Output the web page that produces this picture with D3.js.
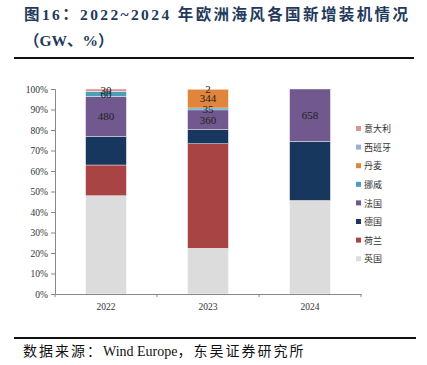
<!DOCTYPE html>
<html>
<head>
<meta charset="utf-8">
<script src="https://cdn.jsdelivr.net/npm/d3@7"></script>
<style>
  html, body { margin: 0; padding: 0; background: #fff; }
  svg { display: block; }
</style>
</head>
<body>
<div id="chart"></div>
<script>
const WIDTH = 427;
const HEIGHT = 365;
const SERIF = "'Liberation Serif', 'Noto Sans CJK SC', serif";

const years = ["2022", "2023", "2024"];
// bottom-to-top stacking order
const countries = ["英国", "荷兰", "德国", "法国", "挪威", "丹麦", "西班牙", "意大利"];
const colors = ["#dcdcdc", "#a84443", "#17375e", "#71588f", "#4aa0b8", "#e0853b", "#95b3d7", "#d99694"];
// newly installed capacity, MW
const ukValues = [1179, 833, 1175];
const nlValues = [369, 1907, 0];
const deValues = [342, 257, 742];
const frValues = [480, 360, 658];
const noValues = [60, 35, 0];
const dkValues = [0, 344, 0];
const esValues = [0, 2, 0];
const itValues = [30, 0, 0];
const labelled = new Set(["法国", "挪威", "丹麦", "西班牙", "意大利"]);
const yTicks = [0, 0.1, 0.2, 0.3, 0.4, 0.5, 0.6, 0.7, 0.8, 0.9, 1];

const seriesValues = [ukValues, nlValues, deValues, frValues, noValues, dkValues, esValues, itValues];
const rows = years.map((year, i) => {
  const row = { year };
  countries.forEach((c, k) => { row[c] = seriesValues[k][i]; });
  return row;
});

const stack = d3.stack().keys(countries).offset(d3.stackOffsetExpand);
const stacked = stack(rows);

const color = d3.scaleOrdinal().domain(countries).range(colors);

const margin = { left: 55, right: 66, top: 89, bottom: 71 };
const x = d3.scaleBand().domain(years).range([margin.left, WIDTH - margin.right]).paddingInner(0.6).paddingOuter(0.3);
const y = d3.scaleLinear().domain([0, 1]).range([HEIGHT - margin.bottom, margin.top]);

const svg = d3.select("#chart").append("svg")
  .attr("width", WIDTH)
  .attr("height", HEIGHT);

// title
const title = svg.append("g")
  .attr("font-family", SERIF)
  .attr("font-weight", "bold")
  .attr("fill", "#1f3a5c");
title.append("text")
  .attr("x", 24).attr("y", 20)
  .attr("font-size", 15.5)
  .attr("textLength", 384)
  .text("图16：2022~2024 年欧洲海风各国新增装机情况");
title.append("text")
  .attr("x", 24).attr("y", 46)
  .attr("font-size", 15.5)
  .text("（GW、%）");

svg.append("line")
  .attr("x1", 14).attr("x2", 414).attr("y1", 58).attr("y2", 58)
  .attr("stroke", "#111").attr("stroke-width", 2);

// bars
const layers = svg.append("g").selectAll("g")
  .data(stacked)
  .join("g")
  .attr("fill", (d) => color(d.key));

layers.selectAll("rect")
  .data((d) => d.map((p) => ({ p, key: d.key })))
  .join("rect")
  .attr("x", (d) => x(d.p.data.year))
  .attr("width", x.bandwidth())
  .attr("y", (d) => y(d.p[1]))
  .attr("height", (d) => Math.max(0, y(d.p[0]) - y(d.p[1])))
  .attr("stroke", "#fff")
  .attr("stroke-width", 0.4);

// segment labels
const labelData = [];
stacked.forEach((layer) => {
  if (!labelled.has(layer.key)) return;
  layer.forEach((p) => {
    const v = p.data[layer.key];
    if (v > 0) labelData.push({ year: p.data.year, v, mid: (p[0] + p[1]) / 2 });
  });
});
svg.append("g")
  .attr("font-family", SERIF)
  .attr("font-size", 11)
  .attr("fill", "#222")
  .attr("text-anchor", "middle")
  .selectAll("text")
  .data(labelData)
  .join("text")
  .attr("x", (d) => x(d.year) + x.bandwidth() / 2)
  .attr("y", (d) => y(d.mid))
  .attr("dy", "0.35em")
  .text((d) => d.v);

// axes
const yAxis = svg.append("g")
  .attr("transform", `translate(${margin.left},0)`)
  .call(d3.axisLeft(y).tickValues(yTicks).tickFormat(d3.format(".0%")).tickSize(4).tickPadding(3));
yAxis.select(".domain").attr("stroke", "#888");
yAxis.selectAll(".tick line").attr("stroke", "#888");
yAxis.selectAll("text").attr("font-family", SERIF).attr("font-size", 9.5).attr("fill", "#333");

const xAxis = svg.append("g")
  .attr("transform", `translate(0,${HEIGHT - margin.bottom})`)
  .call(d3.axisBottom(x).tickSize(0).tickPadding(9));
xAxis.select(".domain").attr("stroke", "#888");
xAxis.selectAll("text").attr("font-family", SERIF).attr("font-size", 9.5).attr("fill", "#333");
const step = x.step();
xAxis.selectAll(".sep")
  .data(d3.range(years.length + 1))
  .join("line")
  .attr("class", "sep")
  .attr("x1", (i) => margin.left + i * step)
  .attr("x2", (i) => margin.left + i * step)
  .attr("y1", 0).attr("y2", 3)
  .attr("stroke", "#888");

// legend
const legendItems = countries.slice().reverse();
const legend = svg.append("g")
  .attr("transform", "translate(356,129)")
  .selectAll("g")
  .data(legendItems)
  .join("g")
  .attr("transform", (d, i) => `translate(0,${i * 18.6})`);
legend.append("rect")
  .attr("x", 0).attr("y", -3)
  .attr("width", 5).attr("height", 5)
  .attr("fill", (d) => color(d));
legend.append("text")
  .attr("x", 8).attr("y", 0)
  .attr("dy", "0.35em")
  .attr("font-family", SERIF)
  .attr("font-size", 9)
  .attr("fill", "#333")
  .text((d) => d);

// footer
svg.append("line")
  .attr("x1", 14).attr("x2", 416).attr("y1", 338).attr("y2", 338)
  .attr("stroke", "#111").attr("stroke-width", 2);
const source = svg.append("text")
  .attr("x", 23).attr("y", 356)
  .attr("font-family", SERIF)
  .attr("font-size", 14)
  .attr("fill", "#111");
source.append("tspan").attr("letter-spacing", 2).text("数据来源：");
source.append("tspan").text("Wind Europe");
source.append("tspan").attr("letter-spacing", 2).text("，东吴证券研究所");
</script>
</body>
</html>
